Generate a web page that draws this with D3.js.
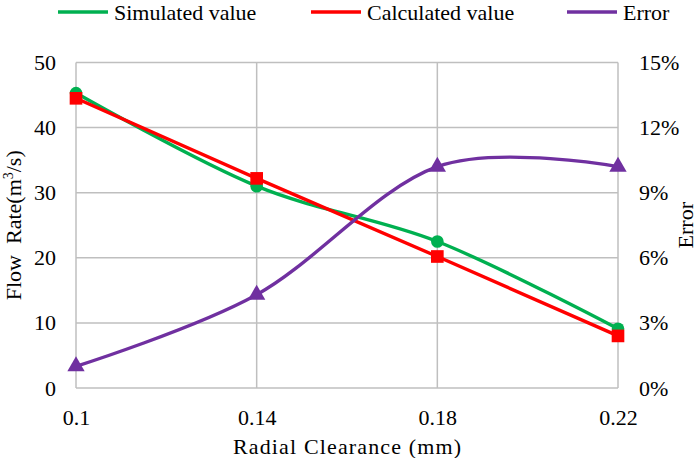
<!DOCTYPE html>
<html>
<head>
<meta charset="utf-8">
<script src="https://cdn.jsdelivr.net/npm/d3@7"></script>
</head>
<body style="margin:0;background:#fff">
<div id="chart"></div>
<script>
// chart data
const clearance = [0.1, 0.14, 0.18, 0.22];
const simulated = [45.3, 31.0, 22.5, 9.1];
const calculated = [44.5, 32.2, 20.2, 8.0];
const errorPct = [0.010, 0.043, 0.102, 0.102];
const leftTicks = [0, 10, 20, 30, 40, 50];
const rightTicks = [0, 0.03, 0.06, 0.09, 0.12, 0.15];

const width = 699, height = 458;
const margin = { top: 62.5, right: 81, bottom: 70, left: 76 };

const svg = d3.select("#chart").append("svg")
    .attr("width", width)
    .attr("height", height);

const x = d3.scaleLinear().domain([0.1, 0.22]).range([margin.left, width - margin.right]);
const y = d3.scaleLinear().domain([0, 50]).range([height - margin.bottom, margin.top]);
const y2 = d3.scaleLinear().domain([0, 0.15]).range([height - margin.bottom, margin.top]);

const grid = "#bfbfbf";

// gridlines
svg.append("g").selectAll("line").data(leftTicks).join("line")
    .attr("x1", margin.left).attr("x2", width - margin.right)
    .attr("y1", d => y(d)).attr("y2", d => y(d))
    .attr("stroke", grid).attr("stroke-width", 1.5);
svg.append("g").selectAll("line").data(clearance).join("line")
    .attr("x1", d => x(d)).attr("x2", d => x(d))
    .attr("y1", y(0)).attr("y2", y(50))
    .attr("stroke", grid).attr("stroke-width", 1.5);

// axes (labels only, lines are the grid)
const leftAxis = svg.append("g")
    .attr("transform", `translate(${margin.left},0)`)
    .call(d3.axisLeft(y).tickValues(leftTicks).tickSize(0).tickPadding(20));
const rightAxis = svg.append("g")
    .attr("transform", `translate(${width - margin.right},0)`)
    .call(d3.axisRight(y2).tickValues(rightTicks).tickSize(0).tickPadding(21).tickFormat(d3.format(".0%")));
const bottomAxis = svg.append("g")
    .attr("transform", `translate(0,${y(0)})`)
    .call(d3.axisBottom(x).tickValues(clearance).tickSize(0).tickPadding(21).tickFormat(d => String(d)));
[leftAxis, rightAxis, bottomAxis].forEach(a => {
    a.attr("font-family", null).attr("font-size", null);
    a.select(".domain").remove();
    a.selectAll("text").attr("fill", "#000");
});

// axis titles
const xt = svg.append("text")
    .attr("x", (margin.left + width - margin.right) / 2)
    .attr("y", 454)
    .attr("text-anchor", "middle")
    .text("Radial Clearance (mm)");

const yt = svg.append("text")
    .attr("transform", `translate(21,${(y(0) + y(50)) / 2}) rotate(-90)`)
    .attr("text-anchor", "middle")
    .style("white-space", "pre");
yt.append("tspan").text("Flow  Rate(m");
yt.append("tspan").attr("dy", -8).text("3");
yt.append("tspan").attr("dy", 8).text("/s)");

svg.append("text")
    .attr("transform", `translate(693,${(y(0) + y(50)) / 2}) rotate(-90)`)
    .attr("text-anchor", "middle")
    .text("Error");

// series
const green = "#00b050", red = "#ff0000", purple = "#7030a0";
const smooth = d3.curveCardinal.tension(0);

svg.append("path")
    .datum(clearance.map((c, i) => [x(c), y(simulated[i])]))
    .attr("fill", "none").attr("stroke", green).attr("stroke-width", 3.4)
    .attr("d", d3.line().curve(smooth));
svg.append("path")
    .datum(clearance.map((c, i) => [x(c), y(calculated[i])]))
    .attr("fill", "none").attr("stroke", red).attr("stroke-width", 3.4)
    .attr("d", d3.line());
svg.append("path")
    .datum(clearance.map((c, i) => [x(c), y2(errorPct[i])]))
    .attr("fill", "none").attr("stroke", purple).attr("stroke-width", 3.4)
    .attr("d", d3.line().curve(smooth));

const circleSym = d3.symbol().type(d3.symbolCircle).size(125);
const squareSym = d3.symbol().type(d3.symbolSquare).size(160);
const triSym = d3.symbol().type(d3.symbolTriangle).size(130);

svg.append("g").selectAll("path").data(simulated).join("path")
    .attr("transform", (d, i) => `translate(${x(clearance[i])},${y(d)})`)
    .attr("d", circleSym).attr("fill", green);
svg.append("g").selectAll("path").data(calculated).join("path")
    .attr("transform", (d, i) => `translate(${x(clearance[i])},${y(d)})`)
    .attr("d", squareSym).attr("fill", red);
svg.append("g").selectAll("path").data(errorPct).join("path")
    .attr("transform", (d, i) => `translate(${x(clearance[i])},${y2(d)})`)
    .attr("d", triSym).attr("fill", purple);

// legend
const legend = [
    { name: "Simulated value", color: green, sym: circleSym, x: 58 },
    { name: "Calculated value", color: red, sym: squareSym, x: 311 },
    { name: "Error", color: purple, sym: triSym, x: 567 }
];
const lg = svg.append("g").selectAll("g").data(legend).join("g")
    .attr("transform", d => `translate(${d.x},12)`);
lg.append("line").attr("x1", 0).attr("x2", 50)
    .attr("stroke", d => d.color).attr("stroke-width", 3.4);
lg.append("path").attr("transform", "translate(25,0)")
    .attr("d", d => d.sym).attr("fill", d => d.color);
lg.append("text").attr("x", 56).attr("y", 8)
    .text(d => d.name);

// one font for every label
svg.selectAll("text")
    .style("font-family", "Liberation Serif")
    .style("font-size", "22px");
yt.selectAll("tspan").filter((d, i) => i === 1).style("font-size", "14px");
xt.attr("textLength", 228).attr("lengthAdjust", "spacing");
</script>
</body>
</html>
